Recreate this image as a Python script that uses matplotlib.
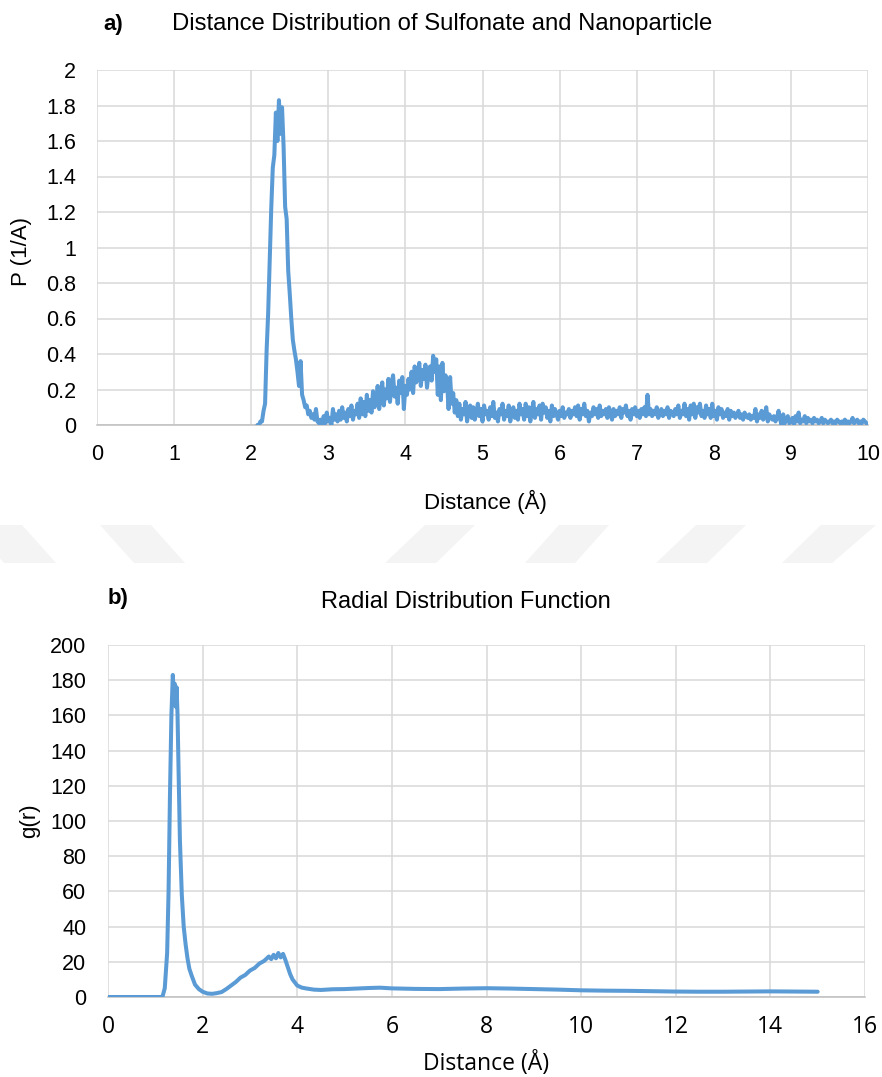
import numpy as np
import matplotlib
matplotlib.use("Agg")
import matplotlib.pyplot as plt
from matplotlib.ticker import FuncFormatter, MultipleLocator
from matplotlib.patches import Polygon

# ---------------- data ----------------
# a) Distance distribution of sulfonate and nanoparticle
p_x_start = 2.08
p_x_step = 0.02
p_values = [
    # 2.08 - 2.88 (main peak)
    0.00, 0.00, 0.02, 0.02, 0.08, 0.12, 0.42, 0.63, 0.93, 1.22,
    1.45, 1.52, 1.76, 1.60, 1.83, 1.64, 1.79, 1.57, 1.23, 1.16,
    0.87, 0.74, 0.60, 0.48, 0.42, 0.37, 0.30, 0.22, 0.36, 0.17,
    0.14, 0.10, 0.11, 0.06, 0.08, 0.04, 0.06, 0.03, 0.09, 0.02,
    0.01,
    # 2.90 - 4.66 (second shell)
    0.03, 0.00, 0.05, 0.01, 0.07, 0.02, 0.04, 0.00, 0.09, 0.03, 0.06,
    0.02, 0.08, 0.03, 0.10, 0.04, 0.07, 0.02, 0.09, 0.05, 0.11, 0.03, 0.08, 0.06, 0.12, 0.04,
    0.15, 0.06, 0.13, 0.05, 0.17, 0.08, 0.14, 0.07, 0.19, 0.10,
    0.12, 0.22, 0.09, 0.18, 0.24, 0.11, 0.20, 0.15, 0.26, 0.13, 0.23, 0.28, 0.16,
    0.21, 0.12, 0.25, 0.18, 0.27, 0.09, 0.22, 0.17, 0.26, 0.20,
    0.30, 0.18, 0.33, 0.24, 0.28, 0.35, 0.22, 0.31, 0.26, 0.34, 0.21, 0.29, 0.33, 0.25,
    0.39, 0.30, 0.37, 0.17, 0.33, 0.14, 0.35, 0.19, 0.28,
    0.24, 0.09, 0.27, 0.12, 0.18, 0.07, 0.14,
    # 4.68 - 5.50
    0.05, 0.12, 0.03, 0.09, 0.06, 0.13, 0.02, 0.08, 0.11, 0.04,
    0.10, 0.03, 0.07, 0.12, 0.05, 0.09, 0.02, 0.11, 0.06, 0.08,
    0.03, 0.10, 0.05, 0.13, 0.04, 0.07, 0.02, 0.09, 0.06, 0.12,
    0.03, 0.08, 0.05, 0.11, 0.02, 0.07, 0.10, 0.04, 0.08, 0.03,
    0.12, 0.06,
    # 5.52 - 8.86
    0.09, 0.03, 0.12, 0.05, 0.10, 0.02, 0.08, 0.13, 0.04, 0.09,
    0.06, 0.11, 0.03, 0.12, 0.07, 0.10, 0.04, 0.08, 0.02, 0.11,
    0.05, 0.09, 0.06, 0.03, 0.08, 0.05, 0.10, 0.04, 0.07, 0.06,
    0.09, 0.04, 0.08, 0.06, 0.10, 0.05, 0.11, 0.03, 0.09, 0.06,
    0.12, 0.05, 0.08, 0.02, 0.07, 0.05, 0.10, 0.06, 0.09, 0.04,
    0.11, 0.05, 0.08, 0.06, 0.09, 0.04, 0.10, 0.07, 0.03, 0.09,
    0.05, 0.08, 0.06, 0.10, 0.04, 0.09, 0.07, 0.11, 0.05, 0.08,
    0.03, 0.09, 0.06, 0.10, 0.05, 0.08, 0.04, 0.09, 0.06, 0.10,
    0.05, 0.17, 0.06, 0.09, 0.05, 0.08, 0.06, 0.10, 0.04, 0.07,
    0.09, 0.05, 0.08, 0.06, 0.10, 0.04, 0.08, 0.07, 0.05, 0.09,
    0.06, 0.11, 0.04, 0.08, 0.06, 0.12, 0.05, 0.09, 0.03, 0.11,
    0.06, 0.12, 0.04, 0.10, 0.07, 0.12, 0.05, 0.08, 0.04, 0.11,
    0.06, 0.09, 0.04, 0.12, 0.05, 0.08, 0.03, 0.10, 0.06, 0.09,
    0.04, 0.07, 0.05, 0.09, 0.03, 0.08, 0.05, 0.07, 0.04, 0.06,
    0.08, 0.04, 0.06, 0.03, 0.07, 0.05, 0.04, 0.06, 0.03, 0.05,
    0.04, 0.09, 0.02, 0.06, 0.04, 0.08, 0.03, 0.05, 0.10, 0.02,
    0.06, 0.04, 0.03, 0.05, 0.02, 0.04, 0.08, 0.03,
    # 8.88 - 10.00
    0.00, 0.06, 0.01, 0.03, 0.05, 0.01, 0.02, 0.04, 0.00, 0.05,
    0.02, 0.07, 0.01, 0.03, 0.02, 0.05, 0.01, 0.04, 0.02, 0.03,
    0.01, 0.04, 0.02, 0.03, 0.01, 0.02, 0.04, 0.01, 0.03, 0.02,
    0.01, 0.02, 0.03, 0.01, 0.02, 0.01, 0.03, 0.02, 0.01, 0.02,
    0.01, 0.03, 0.01, 0.02, 0.01, 0.02, 0.04, 0.01, 0.02, 0.03,
    0.01, 0.02, 0.01, 0.03, 0.02, 0.01, 0.00,
]
p_x = p_x_start + p_x_step * np.arange(len(p_values))

# b) Radial distribution function
g_x = [0, 1.15, 1.20, 1.25, 1.28, 1.31, 1.34, 1.37, 1.39, 1.41,
       1.43, 1.45, 1.47, 1.49, 1.52, 1.56, 1.60, 1.64, 1.68, 1.72,
       1.77, 1.84, 1.92, 2.0, 2.1, 2.2, 2.3, 2.4, 2.5, 2.6,
       2.7, 2.8, 2.9, 3.0, 3.1, 3.2, 3.3, 3.4, 3.45, 3.5,
       3.55, 3.6, 3.65, 3.7, 3.75, 3.8, 3.85, 3.9, 4.0, 4.1,
       4.2, 4.35, 4.5, 4.75, 5.0, 5.25, 5.5, 5.75, 6.0, 6.5,
       7.0, 7.5, 8.0, 8.5, 9.0, 9.5, 10.0, 10.5, 11, 11.5,
       12, 12.5, 13, 13.5, 14, 14.5, 15.0]
g_y = [0, 0, 5, 25, 60, 115, 160, 183, 172, 178,
       165, 176, 160, 131, 89, 58, 40, 30, 22, 16,
       12, 7, 4.5, 3, 2, 1.8, 2.2, 2.8, 4.5, 6.5,
       8.5, 11, 12.5, 15, 16.5, 19, 20.5, 23, 21.5, 24,
       22, 25, 22.5, 24.5, 21, 17, 13, 10, 6.5, 5.3,
       4.8, 4.2, 4.0, 4.4, 4.5, 4.8, 5.1, 5.3, 4.9, 4.6,
       4.5, 4.8, 5.0, 4.8, 4.5, 4.2, 3.8, 3.6, 3.5, 3.3,
       3.1, 3.0, 3.0, 3.1, 3.2, 3.1, 3.0]

title_a = "Distance Distribution of Sulfonate and Nanoparticle"
title_b = "Radial Distribution Function"
xlabel = "Distance (Å)"
ylabel_a = "P (1/A)"
ylabel_b = "g(r)"

# ---------------- style ----------------
W, H = 882, 1077
DPI = 100
LINE = "#5B9BD5"
GRID = "#d9d9d9"
ARIAL = ["Liberation Sans", "DejaVu Sans"]
CALIBRI = ["Open Sans", "Lato", "DejaVu Sans"]

fig = plt.figure(figsize=(W / DPI, H / DPI), dpi=DPI)

def fx(px):
    return px / W

def fy(py):
    return 1 - py / H

# watermark shapes (very light grey parallelograms)
wm_top, wm_bot = 525, 563
wm_shapes = [((-30, 22), (4, 56)), ((100, 151), (134, 185)),
             ((425, 475), (385, 436)), ((559, 609), (525, 575)),
             ((696, 746), (656, 707)), ((821, 876), (782, 832))]
for (t0, t1), (b0, b1) in wm_shapes:
    poly = Polygon([(fx(t0), fy(wm_top)), (fx(t1), fy(wm_top)),
                    (fx(b1), fy(wm_bot)), (fx(b0), fy(wm_bot))],
                   closed=True, transform=fig.transFigure,
                   facecolor="#f4f4f4", edgecolor="none", zorder=0)
    fig.patches.append(poly)

def style_axes(ax, xfont, yfont, fs_x, fs_y, xpad, ypad):
    for s in ["top", "right", "left"]:
        ax.spines[s].set_visible(False)
    ax.spines["bottom"].set_color("#bfbfbf")
    ax.spines["bottom"].set_linewidth(1.1)
    ax.grid(True, color=GRID, linewidth=1.1)
    ax.set_axisbelow(True)
    ax.tick_params(length=0)
    ax.tick_params(axis="x", pad=xpad)
    ax.tick_params(axis="y", pad=ypad)
    for lab in ax.get_xticklabels():
        lab.set_fontfamily(xfont)
        lab.set_fontsize(fs_x)
    for lab in ax.get_yticklabels():
        lab.set_fontfamily(yfont)
        lab.set_fontsize(fs_y)
    ax.set_facecolor("none")

fmt = FuncFormatter(lambda v, pos: f"{v:g}")

# ---- panel a ----
ax1 = fig.add_axes([fx(97), fy(425), fx(868) - fx(97), fy(70) - fy(425)])
ax1.plot(p_x, p_values, color=LINE, lw=2.9, solid_joinstyle="round",
         solid_capstyle="round", zorder=3)
ax1.set_xlim(0, 10)
ax1.set_ylim(0, 2)
ax1.xaxis.set_major_locator(MultipleLocator(1))
ax1.yaxis.set_major_locator(MultipleLocator(0.2))
ax1.yaxis.set_major_formatter(fmt)
ax1.xaxis.set_major_formatter(fmt)
style_axes(ax1, ARIAL, ARIAL, 15.5, 15.5, 14, 15)
ax1.set_xlabel(xlabel, fontfamily=ARIAL, fontsize=16, va="baseline")
ax1.xaxis.set_label_coords(0.504, (425 - 509) / 355)
ax1.set_ylabel(ylabel_a, fontfamily=ARIAL, fontsize=16, va="center")
ax1.yaxis.set_label_coords((22 - 97) / 771, 0.49)

fig.text(fx(103), fy(30), "a)", fontfamily=ARIAL, fontsize=16, fontweight="bold",
         ha="left", va="baseline")
fig.text(fx(442), fy(30), title_a, fontfamily=ARIAL, fontsize=17.2,
         ha="center", va="baseline")

# ---- panel b ----
ax2 = fig.add_axes([fx(108), fy(997), fx(865) - fx(108), fy(645) - fy(997)])
ax2.plot(g_x, g_y, color=LINE, lw=2.9, solid_joinstyle="round",
         solid_capstyle="round", zorder=3)
ax2.set_xlim(0, 16)
ax2.set_ylim(0, 200)
ax2.xaxis.set_major_locator(MultipleLocator(2))
ax2.yaxis.set_major_locator(MultipleLocator(20))
ax2.xaxis.set_major_formatter(fmt)
ax2.yaxis.set_major_formatter(fmt)
style_axes(ax2, CALIBRI, ARIAL, 16.5, 15.5, 13, 15.5)
ax2.set_xlabel(xlabel, fontfamily=CALIBRI, fontsize=16.5, va="baseline")
ax2.xaxis.set_label_coords(0.5, (997 - 1070) / 352)
ax2.set_ylabel(ylabel_b, fontfamily=ARIAL, fontsize=16, va="center")
ax2.yaxis.set_label_coords((30 - 108) / 757, 0.5)

fig.text(fx(108), fy(604), "b)", fontfamily=ARIAL, fontsize=16, fontweight="bold",
         ha="left", va="baseline")
fig.text(fx(466), fy(608), title_b, fontfamily=ARIAL, fontsize=17,
         ha="center", va="baseline")

fig.savefig("out.png", dpi=DPI, facecolor="white")
